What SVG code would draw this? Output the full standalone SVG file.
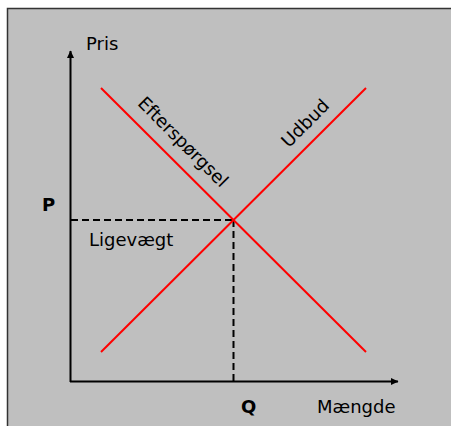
<svg xmlns="http://www.w3.org/2000/svg" width="451" height="426" viewBox="0 0 451 426">
<style>
text{font-family:"DejaVu Sans","Verdana",sans-serif;font-size:18px;fill:#000}
.b{font-weight:bold}
.ax{stroke:#000;stroke-width:2;fill:none}
.dash{stroke:#000;stroke-width:2;stroke-dasharray:7 4;fill:none}
.red{stroke:#ff0000;stroke-width:2;fill:none}
</style>
<defs>
<marker id="ah" markerWidth="8" markerHeight="8" refX="7" refY="4" orient="auto" markerUnits="userSpaceOnUse">
<path d="M0,0.5 L7.5,4 L0,7.5 Z" fill="#000"/>
</marker>
</defs>
<rect x="0" y="0" width="451" height="426" fill="#fff"/>
<rect x="7.5" y="8.5" width="450" height="430" fill="#bfbfbf" stroke="#333" stroke-width="1.5"/>
<g id="connectors">
<line class="ax" x1="70.5" y1="382" x2="70.5" y2="51" marker-end="url(#ah)"/>
<line class="ax" x1="70" y1="381.5" x2="398" y2="381.5" marker-end="url(#ah)"/>
<line class="dash" x1="71" y1="220" x2="233.5" y2="220"/>
<line class="dash" x1="233.5" y1="220" x2="233.5" y2="381"/>
</g>
<g id="demand">
<line class="red" x1="101" y1="88" x2="366" y2="352"/>
<text transform="translate(178.7,146.3) rotate(45)" text-anchor="middle">Efterspørgsel</text>
</g>
<g id="supply">
<line class="red" x1="101" y1="352" x2="366" y2="88"/>
<text transform="translate(309.6,127.6) rotate(-45)" text-anchor="middle">Udbud</text>
</g>
<g id="labels">
<text x="86" y="49.5">Pris</text>
<text class="b" x="42" y="211">P</text>
<text x="89" y="245.5">Ligevægt</text>
<text class="b" x="241" y="413">Q</text>
<text x="317" y="412.5">Mængde</text>
</g>
</svg>
